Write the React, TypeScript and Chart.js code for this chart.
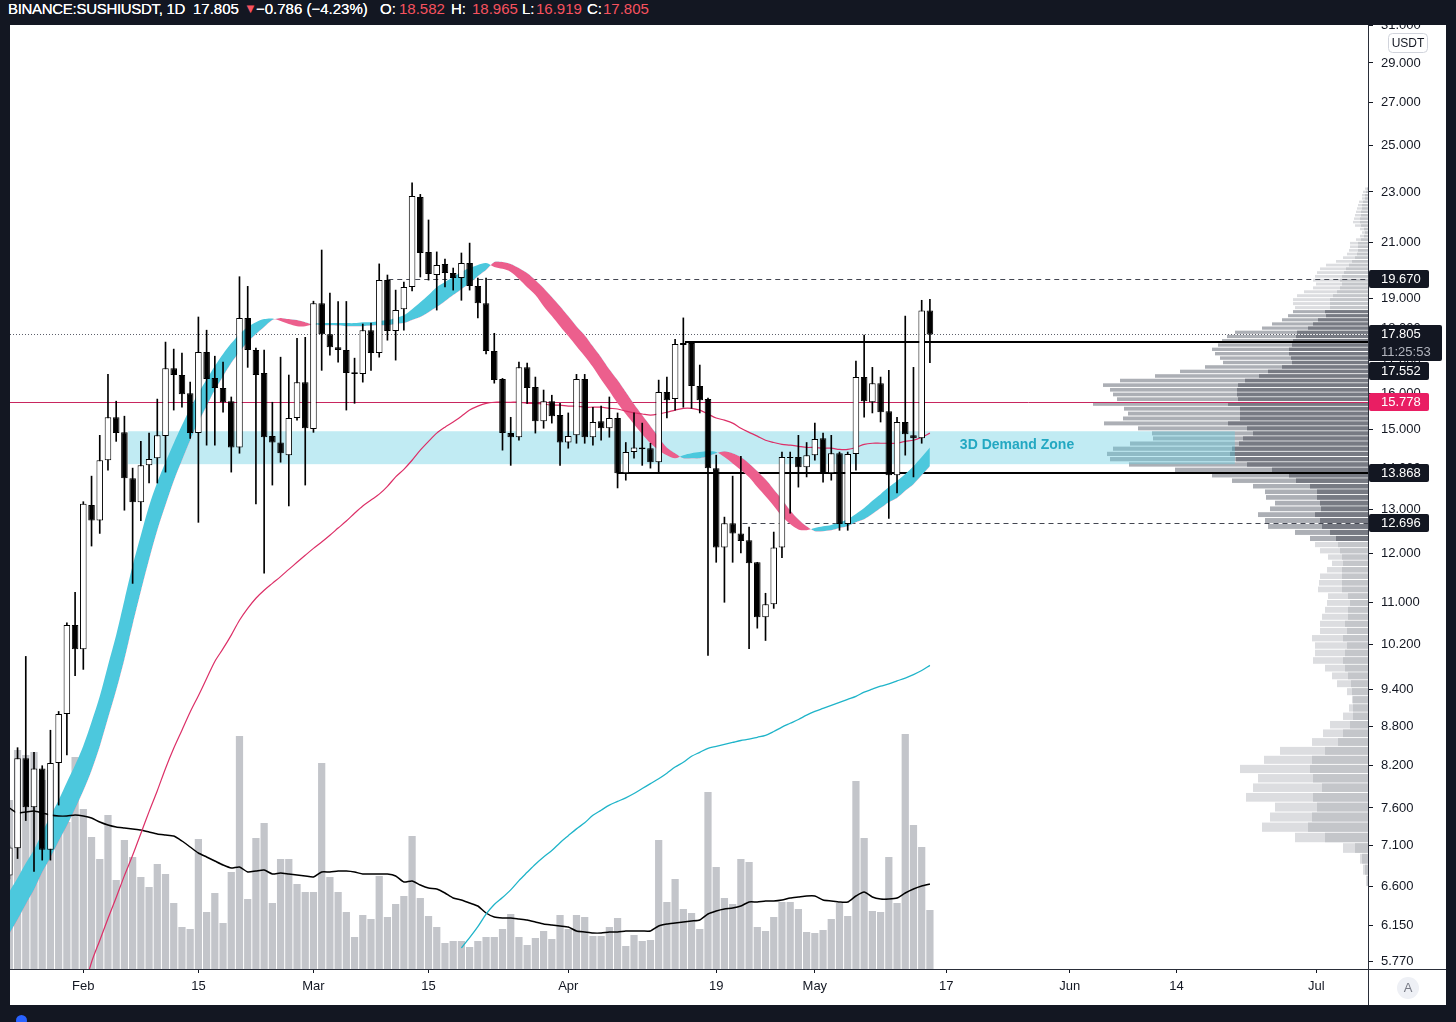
import React, { useEffect, useRef } from 'react';
import { Chart, registerables } from 'chart.js';

Chart.register(...registerables);

// ---------------- data ----------------
// daily candles SUSHI/USDT, first candle 2021-01-23 (day -9 relative to 2021-02-01)
const FIRST_DAY = -9;

const OPEN = [
  6.73, 7.07, 8.31, 7.61, 8.16, 7.05, 8.24, 9.0, 10.56,
  10.11, 13.1, 12.74, 14.2, 15.34, 14.93, 13.75, 13.17, 14.07, 14.25,
  14.83, 16.75, 16.55, 16.02, 14.91, 17.25, 16.46, 16.17, 15.79, 14.53,
  18.34, 17.31, 16.61, 14.83, 14.66, 14.33, 15.32, 16.34, 15.02, 18.83,
  17.81, 17.4, 17.31, 16.63, 16.58, 17.94, 17.22, 19.63, 17.91, 18.63,
  19.39, 22.79, 20.65, 19.81, 20.21, 19.88, 19.7, 20.24, 19.42, 18.83,
  17.28, 16.43, 14.91, 14.8, 16.78, 16.2, 15.23, 15.79, 15.4, 14.66,
  14.85, 16.43, 14.8, 15.23, 15.04, 15.32, 13.87, 14.41, 14.53, 14.51,
  14.15, 16.05, 15.85, 17.47, 17.53, 16.23, 15.85, 14.0, 12.14, 12.68,
  12.45, 12.3, 11.82, 10.71, 10.96, 12.14, 14.28, 14.28, 14.02, 14.33,
  14.77, 13.87, 14.38, 12.66, 14.36, 16.49, 15.76, 16.31, 15.51, 13.82,
  15.21, 14.85, 14.77, 18.582,
];
const HIGH = [
  7.1, 8.47, 9.98, 8.4, 8.2, 8.74, 9.04, 10.6, 11.2,
  13.18, 13.8, 14.85, 16.57, 15.79, 15.37, 14.0, 14.69, 14.91, 15.85,
  17.56, 17.34, 17.22, 16.34, 18.37, 17.94, 17.12, 16.94, 15.91, 19.75,
  19.41, 17.37, 17.31, 15.76, 17.09, 16.55, 17.68, 17.71, 18.9, 20.72,
  19.18, 18.89, 18.89, 17.06, 18.14, 18.17, 20.21, 19.81, 19.28, 19.56,
  23.38, 22.9, 21.87, 20.65, 20.39, 20.06, 20.61, 20.98, 19.7, 19.7,
  17.84, 16.45, 15.34, 16.94, 16.91, 16.49, 16.11, 15.96, 15.73, 15.46,
  16.57, 16.57, 15.62, 15.65, 15.91, 15.46, 14.66, 15.46, 15.18, 14.64,
  16.4, 16.49, 17.65, 18.34, 17.55, 16.85, 15.88, 14.33, 12.82, 13.8,
  14.3, 12.59, 11.82, 11.18, 12.48, 14.41, 14.41, 14.85, 14.66, 15.18,
  14.91, 14.85, 14.41, 14.41, 16.97, 17.78, 16.78, 16.49, 16.69, 15.34,
  18.4, 16.78, 18.93, 18.965,
];
const LOW = [
  6.69, 6.94, 7.43, 6.78, 6.92, 6.92, 7.64, 8.36, 9.64,
  9.75, 12.17, 12.45, 13.95, 14.69, 12.98, 11.38, 12.74, 13.63, 13.63,
  13.9, 15.54, 15.62, 14.77, 12.7, 14.59, 14.59, 15.48, 13.9, 14.38,
  16.78, 13.13, 11.59, 13.58, 14.15, 13.08, 15.26, 13.58, 14.93, 16.69,
  17.15, 16.94, 15.54, 15.73, 16.34, 16.69, 17.09, 17.62, 17.0, 17.94,
  19.25, 19.74, 19.63, 18.6, 19.39, 19.28, 18.93, 19.28, 18.34, 17.19,
  16.31, 14.46, 14.07, 14.72, 15.73, 14.91, 15.04, 15.18, 14.07, 14.51,
  14.64, 14.64, 14.59, 14.72, 14.8, 13.51, 13.7, 14.25, 14.07, 14.0,
  13.87, 15.32, 15.54, 15.62, 15.59, 15.46, 10.0, 11.82, 11.0, 11.82,
  12.02, 10.12, 10.5, 10.27, 10.88, 11.92, 12.91, 13.53, 13.78, 14.2,
  13.65, 13.7, 12.52, 12.52, 13.95, 15.34, 15.46, 15.21, 12.79, 13.39,
  14.33, 13.78, 14.64, 16.919,
];
const CLOSE = [
  7.08, 8.31, 7.61, 8.16, 7.05, 8.24, 9.0, 10.56, 10.11,
  13.13, 12.74, 14.2, 15.34, 14.91, 13.75, 13.17, 14.07, 14.23, 14.85,
  16.75, 16.55, 15.99, 14.91, 17.25, 16.43, 16.17, 15.76, 14.53, 18.34,
  17.31, 16.55, 14.8, 14.66, 14.38, 15.32, 16.34, 15.04, 18.83, 17.81,
  17.4, 17.31, 16.61, 16.58, 17.94, 17.22, 19.63, 17.91, 18.6, 19.39,
  22.83, 20.61, 19.85, 20.17, 19.88, 19.7, 20.24, 19.42, 18.83, 17.28,
  16.4, 14.91, 14.8, 16.78, 16.17, 15.23, 15.79, 15.37, 14.66, 14.83,
  16.43, 14.8, 15.21, 15.04, 15.32, 13.87, 14.41, 14.53, 14.48, 14.15,
  16.05, 15.82, 17.5, 17.53, 16.23, 15.82, 14.0, 12.14, 12.68, 12.45,
  12.28, 11.8, 10.71, 10.96, 12.14, 14.28, 14.26, 14.02, 14.33, 14.75,
  13.87, 14.38, 12.66, 14.36, 16.49, 15.79, 16.31, 15.48, 13.82, 15.21,
  14.88, 14.77, 18.582, 17.805,
];
// volume, millions (estimated)
const VOLUME = [
  1.69, 2.19, 2.14, 2.17, 1.89, 1.99, 1.39, 1.47, 2.12,
  1.6, 1.32, 1.1, 1.54, 0.89, 1.29, 1.12, 0.92, 0.82, 1.05,
  0.95, 0.66, 0.42, 0.4, 1.3, 0.57, 0.76, 0.46, 0.97, 2.33,
  0.7, 1.31, 1.46, 0.66, 1.1, 1.1, 0.85, 0.77, 0.77, 2.06,
  0.92, 0.77, 0.57, 0.32, 0.54, 0.5, 0.93, 0.52, 0.65, 0.73,
  1.33, 0.71, 0.53, 0.42, 0.26, 0.28, 0.28, 0.22, 0.28, 0.32,
  0.32, 0.4, 0.55, 0.32, 0.24, 0.31, 0.38, 0.3, 0.54, 0.4,
  0.54, 0.52, 0.33, 0.33, 0.42, 0.51, 0.23, 0.34, 0.28, 0.29,
  1.29, 0.67, 0.9, 0.6, 0.56, 0.4, 1.77, 1.02, 0.71, 0.65,
  1.1, 1.07, 0.42, 0.38, 0.52, 0.67, 0.67, 0.6, 0.37, 0.36,
  0.39, 0.5, 0.66, 0.53, 1.88, 1.31, 0.58, 0.57, 1.12, 0.66,
  2.35, 1.44, 1.22, 0.59,
];
const VOLUME_MA = [
  1.61, 1.56, 1.57, 1.58, 1.56, 1.54, 1.53, 1.53, 1.54,
  1.53, 1.51, 1.47, 1.44, 1.42, 1.41, 1.4, 1.39, 1.37, 1.35,
  1.34, 1.33, 1.28, 1.22, 1.16, 1.12, 1.08, 1.04, 1.01, 1.02,
  0.97, 0.98, 0.99, 0.95, 0.96, 0.95, 0.94, 0.93, 0.92, 0.97,
  0.97, 0.98, 0.98, 0.97, 0.95, 0.95, 0.95, 0.95, 0.93, 0.87,
  0.88, 0.84, 0.81, 0.8, 0.76, 0.71, 0.69, 0.66, 0.63, 0.56,
  0.52, 0.51, 0.51, 0.5, 0.49, 0.47, 0.45, 0.44, 0.43, 0.42,
  0.38, 0.37, 0.36, 0.36, 0.37, 0.37, 0.38, 0.38, 0.38, 0.38,
  0.43, 0.45, 0.46, 0.47, 0.48, 0.49, 0.55, 0.58, 0.6, 0.61,
  0.63, 0.67, 0.67, 0.68, 0.68, 0.69, 0.71, 0.72, 0.73, 0.73,
  0.69, 0.68, 0.67, 0.67, 0.73, 0.77, 0.72, 0.7, 0.7, 0.71,
  0.76, 0.8, 0.83, 0.85,
];
// ribbon: fast and slow averages (cyan when fast above slow, pink otherwise)
const RIBBON_FAST = [
  6.54, 6.7, 6.88, 7.05, 7.27, 7.49, 7.71, 7.96, 8.21,
  8.5, 8.87, 9.29, 9.82, 10.37, 11.04, 11.75, 12.41, 13.08, 13.65,
  14.15, 14.64, 15.12, 15.59, 16.02, 16.42, 16.82, 17.19, 17.52, 17.81,
  18.04, 18.2, 18.3, 18.32, 18.24, 18.14, 18.07, 18.07, 18.14, 18.17,
  18.17, 18.17, 18.17, 18.17, 18.2, 18.2, 18.24, 18.27, 18.34, 18.43,
  18.63, 18.86, 19.11, 19.38, 19.56, 19.74, 19.92, 20.06, 20.17, 20.24,
  20.1, 20.03, 19.92, 19.67, 19.38, 19.11, 18.73, 18.4, 18.07, 17.75,
  17.43, 17.12, 16.79, 16.42, 16.08, 15.73, 15.43, 15.15, 14.88, 14.64,
  14.46, 14.33, 14.25, 14.33, 14.38, 14.41, 14.43, 14.41, 14.28, 14.12,
  13.95, 13.77, 13.53, 13.31, 13.08, 12.84, 12.66, 12.54, 12.52, 12.57,
  12.61, 12.64, 12.7, 12.77, 12.89, 13.03, 13.2, 13.36, 13.53, 13.68,
  13.85, 14.05, 14.28, 14.53,
];
const RIBBON_SLOW = [
  6.06, 6.22, 6.39, 6.56, 6.77, 6.95, 7.16, 7.36, 7.59,
  7.84, 8.13, 8.49, 8.93, 9.39, 9.93, 10.57, 11.22, 11.88, 12.52,
  13.1, 13.68, 14.2, 14.72, 15.21, 15.65, 16.11, 16.51, 16.91, 17.25,
  17.56, 17.81, 18.04, 18.27, 18.34, 18.3, 18.27, 18.2, 18.12, 18.1,
  18.1, 18.09, 18.07, 18.07, 18.07, 18.09, 18.1, 18.1, 18.14, 18.17,
  18.27, 18.37, 18.53, 18.7, 18.9, 19.11, 19.31, 19.52, 19.77, 19.99,
  20.28, 20.28, 20.21, 20.06, 19.88, 19.63, 19.35, 19.04, 18.73, 18.4,
  18.07, 17.78, 17.43, 17.09, 16.72, 16.4, 16.05, 15.71, 15.4, 15.1,
  14.8, 14.53, 14.38, 14.25, 14.25, 14.25, 14.3, 14.38, 14.43, 14.38,
  14.28, 14.12, 13.93, 13.72, 13.48, 13.24, 12.98, 12.77, 12.61, 12.5,
  12.5, 12.52, 12.57, 12.61, 12.7, 12.77, 12.89, 13.03, 13.17, 13.27,
  13.44, 13.6, 13.82, 14.05,
];
const MA_RED_START = 0;
const MA_RED = [
  5.47, 5.76, 5.99, 6.23, 6.47, 6.73, 6.98, 7.26, 7.55, 7.84,
  8.16, 8.46, 8.74, 9.03, 9.3, 9.59, 9.89, 10.12, 10.37, 10.65,
  10.88, 11.08, 11.24, 11.38, 11.52, 11.67, 11.82, 11.97, 12.12, 12.26,
  12.41, 12.57, 12.73, 12.91, 13.08, 13.22, 13.36, 13.55, 13.78, 13.97,
  14.2, 14.46, 14.69, 14.91, 15.07, 15.21, 15.37, 15.54, 15.65, 15.73,
  15.76, 15.76, 15.76, 15.76, 15.73, 15.73, 15.71, 15.68, 15.68, 15.65,
  15.65, 15.62, 15.62, 15.62, 15.59, 15.57, 15.51, 15.46, 15.43, 15.4,
  15.43, 15.48, 15.54, 15.59, 15.59, 15.54, 15.43, 15.32, 15.26, 15.18,
  15.04, 14.93, 14.83, 14.72, 14.66, 14.61, 14.59, 14.56, 14.53, 14.53,
  14.51, 14.51, 14.48, 14.48, 14.53, 14.61, 14.64, 14.64, 14.64, 14.64,
  14.69, 14.72, 14.8, 14.91,
];
const MA_CYAN_START = 46;
const MA_CYAN = [
  5.91, 6.02, 6.14, 6.28, 6.39, 6.47, 6.56, 6.67, 6.77, 6.87,
  6.96, 7.04, 7.14, 7.23, 7.32, 7.4, 7.5, 7.57, 7.64, 7.69,
  7.74, 7.8, 7.87, 7.94, 8.01, 8.09, 8.18, 8.25, 8.34, 8.4,
  8.46, 8.49, 8.52, 8.55, 8.58, 8.6, 8.63, 8.66, 8.72, 8.79,
  8.85, 8.91, 8.98, 9.04, 9.09, 9.14, 9.19, 9.24, 9.29, 9.36,
  9.41, 9.46, 9.5, 9.55, 9.6, 9.66, 9.73, 9.82,
];

// axis ticks
const X_TICK_DAYS = [0, 14, 28, 42, 59, 77, 89, 105, 120, 133, 150];
const X_TICK_LABELS = ['Feb', '15', 'Mar', '15', 'Apr', '19', 'May', '17', 'Jun', '14', 'Jul'];
const Y_TICKS = [5.77, 6.15, 6.6, 7.1, 7.6, 8.2, 8.8, 9.4, 10.2, 11, 12, 13, 14, 15, 16, 17, 18, 19, 21, 23, 25, 27, 29, 31];
const X_MIN = -8.92;
const X_MAX = 156.3;
const Y_MIN = 5.69;
const Y_MAX = 31.05;
const VOL_AXIS_MAX = 9.44;

// visible-range volume profile (rows of PROFILE_STEP starting at PROFILE_LOW)
const PROFILE_LOW = 6.6;
const PROFILE_STEP = 0.135;
const PROFILE_TOTAL = [
  0.2, 0.5, 0.8, 2.5, 7.3, 10.6, 9.8, 9.3, 12.2, 11.5,
  11.0, 12.8, 10.4, 8.8, 5.6, 4.5, 3.8, 2.5, 1.9, 1.6,
  2.1, 3.1, 3.6, 4.3, 5.5, 5.3, 5.3, 5.6, 4.8, 4.8,
  4.6, 4.3, 4.1, 4.0, 5.0, 4.9, 4.8, 4.1, 3.6, 4.0,
  4.8, 5.3, 5.8, 7.3, 10.0, 10.3, 11.0, 9.8, 9.3, 10.2,
  10.3, 11.5, 13.6, 15.6, 19.3, 23.9, 25.8, 26.1, 25.5, 23.8,
  21.5, 21.6, 23.0, 26.4, 24.5, 24.0, 24.4, 27.5, 25.1, 25.5,
  25.8, 26.5, 24.8, 21.3, 18.8, 16.3, 14.5, 14.8, 15.3, 15.6,
  15.0, 14.6, 14.1, 13.3, 10.6, 9.6, 8.6, 8.0, 7.5, 7.3,
  7.5, 7.5, 7.1, 6.4, 5.5, 5.2, 5.5, 5.3, 5.1, 4.8,
  4.2, 3.2, 2.5, 2.1, 1.9, 1.8, 1.8, 1.2, 0.8, 0.6,
  0.8, 1.3, 1.5, 1.4, 1.3, 1.2, 1.1, 1.0, 0.9, 0.6,
  0.6, 0.5, 0.3,
];
const PROFILE_DARK = [
  0.1, 0.3, 0.6, 1.3, 4.3, 6.0, 5.6, 5.1, 5.5, 4.6,
  5.5, 5.8, 5.6, 4.3, 3.0, 2.5, 1.8, 1.5, 1.5, 1.5,
  1.6, 1.7, 2.0, 2.3, 2.5, 2.3, 2.1, 2.5, 2.1, 2.3,
  2.0, 2.0, 1.8, 2.0, 2.6, 2.6, 2.6, 2.6, 2.5, 2.6,
  2.8, 3.0, 3.2, 3.8, 4.6, 4.8, 5.3, 4.7, 4.8, 5.1,
  5.1, 5.8, 7.2, 7.9, 9.6, 12.1, 13.2, 13.8, 13.6, 12.9,
  12.5, 11.5, 12.1, 14.0, 12.8, 12.8, 12.8, 14.0, 13.0, 13.1,
  13.1, 13.0, 12.3, 10.9, 10.0, 8.6, 7.6, 7.7, 7.9, 7.9,
  7.6, 7.5, 7.2, 7.1, 6.0, 5.5, 5.0, 4.2, 4.3, 3.8,
  3.8, 3.8, 3.5, 3.1, 2.8, 2.6, 2.8, 2.6, 2.4, 2.2,
  1.9, 1.6, 1.3, 1.1, 1.0, 1.0, 1.0, 0.7, 0.4, 0.3,
  0.4, 0.7, 0.8, 0.8, 0.7, 0.7, 0.6, 0.6, 0.5, 0.3,
  0.3, 0.2, 0.1,
];
const VA_FIRST_ROW = 42;
const VA_LAST_ROW = 88;
const PROFILE_AXIS_MAX = 135.8;

// drawings
const ZONE_HIGH = 14.96;
const ZONE_LOW = 14.1;
const ZONE_FROM_DAY = 5.45;
const ZONE_TO_DAY = 140.1;
const ZONE_LABEL = '3D Demand Zone';
const ZONE_LABEL_DAY = 113.6;
const ZONE_LABEL_PRICE = 14.6;

const LEVEL_PRICES = [19.67, 17.805, 17.552, 15.778, 13.868, 12.696];
const LEVEL_FROM_DAY: (number | null)[] = [37.1, null, 73.2, null, 64.9, 80.2];
const LEVEL_KIND = ['dashed', 'dotted', 'solid', 'poc', 'solid', 'dashed'];

const LABEL_PRICES = [19.67, 17.805, 17.552, 15.778, 13.868, 12.696];
const LABEL_KIND = ['black', 'last', 'black', 'poc', 'black', 'black'];
const COUNTDOWN = '11:25:53';

// ---------------- styles ----------------
const C = {
  frame: '#131722',
  text: '#131722',
  up: '#ffffff',
  down: '#000000',
  edge: '#000000',
  volume: '#c3c5ca',
  volumeMa: '#000000',
  maRed: '#dc2f67',
  maCyan: '#1fb4c9',
  ribbonUp: '#4cc8dd',
  ribbonDown: '#ec5f8d',
  zone: 'rgba(100, 205, 225, 0.4)',
  zoneText: '#23a8c2',
  poc: '#c8265f',
  vaLight: '#acafb5',
  vaDark: '#777a83',
  outLight: '#dcdde0',
  outDark: '#c4c6ca',
  dashed: '#434651',
  dotted: '#5d606b',
  solid: '#000000',
  labelBg: '#131722',
  pocBg: '#e91e63',
  red: '#f7525f',
  sep: '#2a2e39',
};
const FONT = '"Liberation Sans", Arial, sans-serif';

const overlayPlugin = {
  id: 'tvOverlay',
  beforeDatasetsDraw(chart: any) {
    const { ctx, chartArea: a, scales } = chart;
    const ys = scales.y;
    const xs = scales.x;
    const xp = scales.xProf;
    ctx.save();
    ctx.beginPath();
    ctx.rect(a.left, a.top, a.right - a.left, a.bottom - a.top);
    ctx.clip();

    // volume profile
    const right = xp.getPixelForValue(0);
    for (let k = 0; k < PROFILE_TOTAL.length; k++) {
      const lo = PROFILE_LOW + k * PROFILE_STEP;
      const yTop = ys.getPixelForValue(lo + PROFILE_STEP);
      const yBot = ys.getPixelForValue(lo);
      const h = Math.max(1, yBot - yTop - 1);
      const inVA = k >= VA_FIRST_ROW && k <= VA_LAST_ROW;
      const xt = xp.getPixelForValue(PROFILE_TOTAL[k]);
      const xd = xp.getPixelForValue(PROFILE_DARK[k]);
      ctx.fillStyle = inVA ? C.vaLight : C.outLight;
      ctx.fillRect(xt, yTop + 0.5, right - xt, h);
      ctx.fillStyle = inVA ? C.vaDark : C.outDark;
      ctx.fillRect(xd, yTop + 0.5, right - xd, h);
    }

    // demand zone
    const zx0 = xs.getPixelForValue(ZONE_FROM_DAY);
    const zx1 = xs.getPixelForValue(ZONE_TO_DAY);
    const zy0 = ys.getPixelForValue(ZONE_HIGH);
    const zy1 = ys.getPixelForValue(ZONE_LOW);
    ctx.fillStyle = C.zone;
    ctx.fillRect(zx0, zy0, zx1 - zx0, zy1 - zy0);
    ctx.fillStyle = C.zoneText;
    ctx.font = `bold 14px ${FONT}`;
    ctx.textAlign = 'center';
    ctx.textBaseline = 'middle';
    ctx.fillText(ZONE_LABEL, xs.getPixelForValue(ZONE_LABEL_DAY), ys.getPixelForValue(ZONE_LABEL_PRICE));

    // horizontal levels
    LEVEL_PRICES.forEach((p, i) => {
      const kind = LEVEL_KIND[i];
      const fromDay = LEVEL_FROM_DAY[i];
      const x0 = fromDay === null ? a.left : xs.getPixelForValue(fromDay);
      const yy = ys.getPixelForValue(p);
      ctx.beginPath();
      if (kind === 'solid') {
        ctx.setLineDash([]);
        ctx.lineWidth = 2;
        ctx.strokeStyle = C.solid;
        ctx.moveTo(x0, Math.round(yy));
        ctx.lineTo(a.right, Math.round(yy));
      } else {
        ctx.setLineDash(kind === 'dashed' ? [5, 4] : kind === 'dotted' ? [1, 2] : []);
        ctx.lineWidth = 1;
        ctx.strokeStyle = kind === 'dashed' ? C.dashed : kind === 'dotted' ? C.dotted : C.poc;
        ctx.moveTo(x0, Math.round(yy) + 0.5);
        ctx.lineTo(a.right, Math.round(yy) + 0.5);
      }
      ctx.stroke();
    });
    ctx.restore();
  },
  afterDraw(chart: any) {
    const { ctx, chartArea: a, scales, width, height } = chart;
    const ys = scales.y;
    ctx.save();
    // separators
    ctx.strokeStyle = C.sep;
    ctx.lineWidth = 1;
    ctx.setLineDash([]);
    ctx.beginPath();
    ctx.moveTo(Math.round(a.right) + 0.5, 0);
    ctx.lineTo(Math.round(a.right) + 0.5, height);
    ctx.moveTo(0, Math.round(a.bottom) + 0.5);
    ctx.lineTo(width, Math.round(a.bottom) + 0.5);
    ctx.stroke();

    // USDT unit box
    const ux = a.right + 20;
    ctx.fillStyle = '#ffffff';
    ctx.strokeStyle = '#d1d4dc';
    ctx.beginPath();
    ctx.roundRect(ux + 0.5, 8.5, 39, 19, 4);
    ctx.fill();
    ctx.stroke();
    ctx.fillStyle = C.text;
    ctx.font = `12px ${FONT}`;
    ctx.textAlign = 'center';
    ctx.textBaseline = 'middle';
    ctx.fillText('USDT', ux + 20, 18.5);

    // price labels
    const order = LABEL_PRICES.map((p, i) => i).sort((i, j) => LABEL_PRICES[j] - LABEL_PRICES[i]);
    let prevBottom = -Infinity;
    ctx.textAlign = 'left';
    order.forEach((i) => {
      const kind = LABEL_KIND[i];
      const h = kind === 'last' ? 36 : 18;
      const w = kind === 'last' ? 73 : 60;
      const cy = ys.getPixelForValue(LABEL_PRICES[i]);
      const top = Math.max(Math.round(cy - 9), prevBottom + 1);
      ctx.fillStyle = kind === 'poc' ? C.pocBg : C.labelBg;
      ctx.beginPath();
      ctx.roundRect(a.right + 1, top, w, h, 2);
      ctx.fill();
      ctx.fillStyle = '#ffffff';
      ctx.font = `13px ${FONT}`;
      ctx.fillText(LABEL_PRICES[i].toFixed(3), a.right + 13, top + 9.5);
      if (kind === 'last') {
        ctx.fillStyle = '#b2b5be';
        ctx.fillText(COUNTDOWN, a.right + 13, top + 27);
      }
      prevBottom = top + h;
    });
    ctx.restore();
  },
};

export default function App() {
  const ref = useRef<HTMLCanvasElement>(null);

  useEffect(() => {
    if (!ref.current) return;
    const days = OPEN.map((_, i) => i + FIRST_DAY);
    const bodyColors = OPEN.map((o, i) => (CLOSE[i] >= o ? C.up : C.down));

    const chart = new Chart(ref.current, {
      type: 'bar',
      data: {
        datasets: [
          {
            type: 'bar',
            label: 'Body',
            data: days.map((d, i) => ({ x: d, y: [OPEN[i], CLOSE[i]] })) as any,
            backgroundColor: bodyColors,
            borderColor: C.edge,
            borderWidth: 1,
            borderSkipped: false,
            grouped: false,
            barPercentage: 0.8,
            categoryPercentage: 1,
            xAxisID: 'x',
            yAxisID: 'y',
            order: 0,
          } as any,
          {
            type: 'bar',
            label: 'Wick',
            data: days.map((d, i) => ({ x: d, y: [LOW[i], HIGH[i]] })) as any,
            backgroundColor: C.edge,
            borderWidth: 0,
            grouped: false,
            barThickness: 1,
            xAxisID: 'x',
            yAxisID: 'y',
            order: 1,
          } as any,
          {
            type: 'line',
            label: 'MA red',
            data: MA_RED.map((v, i) => ({ x: MA_RED_START + i, y: v })),
            borderColor: C.maRed,
            borderWidth: 1.2,
            pointRadius: 0,
            tension: 0.3,
            xAxisID: 'x',
            yAxisID: 'y',
            order: 3,
          } as any,
          {
            type: 'line',
            label: 'MA cyan',
            data: MA_CYAN.map((v, i) => ({ x: MA_CYAN_START + i, y: v })),
            borderColor: C.maCyan,
            borderWidth: 1.3,
            pointRadius: 0,
            tension: 0.3,
            xAxisID: 'x',
            yAxisID: 'y',
            order: 3,
          } as any,
          {
            type: 'line',
            label: 'Ribbon fast',
            data: RIBBON_FAST.map((v, i) => ({ x: days[i], y: v })),
            borderColor: 'rgba(0,0,0,0)',
            borderWidth: 0,
            pointRadius: 0,
            tension: 0.3,
            fill: { target: '+1', above: C.ribbonUp, below: C.ribbonDown },
            xAxisID: 'x',
            yAxisID: 'y',
            order: 5,
          } as any,
          {
            type: 'line',
            label: 'Ribbon slow',
            data: RIBBON_SLOW.map((v, i) => ({ x: days[i], y: v })),
            borderColor: 'rgba(0,0,0,0)',
            borderWidth: 0,
            pointRadius: 0,
            tension: 0.3,
            fill: false,
            xAxisID: 'x',
            yAxisID: 'y',
            order: 5,
          } as any,
          {
            type: 'line',
            label: 'Volume MA',
            data: VOLUME_MA.map((v, i) => ({ x: days[i], y: v })),
            borderColor: C.volumeMa,
            borderWidth: 1.5,
            pointRadius: 0,
            tension: 0.2,
            xAxisID: 'x',
            yAxisID: 'yVol',
            order: 4,
          } as any,
          {
            type: 'bar',
            label: 'Volume',
            data: days.map((d, i) => ({ x: d, y: VOLUME[i] })),
            backgroundColor: C.volume,
            borderWidth: 0,
            grouped: false,
            barPercentage: 0.88,
            categoryPercentage: 1,
            xAxisID: 'x',
            yAxisID: 'yVol',
            order: 6,
          } as any,
        ],
      },
      options: {
        responsive: false,
        maintainAspectRatio: false,
        animation: false,
        events: [],
        layout: { padding: 0 },
        plugins: { legend: { display: false }, tooltip: { enabled: false }, title: { display: false } },
        scales: {
          x: {
            type: 'linear',
            position: 'bottom',
            min: X_MIN,
            max: X_MAX,
            offset: false,
            afterBuildTicks: (s: any) => {
              s.ticks = X_TICK_DAYS.map((v) => ({ value: v }));
            },
            afterFit: (s: any) => {
              s.height = 36;
              s.paddingLeft = 0;
              s.paddingRight = 0;
            },
            ticks: {
              callback: (_v: any, idx: number) => X_TICK_LABELS[idx],
              autoSkip: false,
              maxRotation: 0,
              color: C.text,
              font: { family: 'Liberation Sans', size: 13 },
              padding: 6,
            },
            grid: { drawOnChartArea: false, drawTicks: true, tickLength: 4, color: C.text, offset: false },
            border: { display: false },
          },
          y: {
            type: 'logarithmic',
            position: 'right',
            min: Y_MIN,
            max: Y_MAX,
            afterBuildTicks: (s: any) => {
              s.ticks = Y_TICKS.map((v) => ({ value: v }));
            },
            afterFit: (s: any) => {
              s.width = 78;
              s.paddingTop = 0;
              s.paddingBottom = 0;
            },
            ticks: {
              callback: (v: any) => Number(v).toFixed(3),
              autoSkip: false,
              color: C.text,
              font: { family: 'Liberation Sans', size: 13 },
              padding: 8,
            },
            grid: { drawOnChartArea: false, drawTicks: true, tickLength: 5, color: C.text },
            border: { display: false },
          },
          yVol: {
            type: 'linear',
            display: false,
            min: 0,
            max: VOL_AXIS_MAX,
          },
          xProf: {
            type: 'linear',
            axis: 'x',
            display: false,
            reverse: true,
            offset: false,
            min: 0,
            max: PROFILE_AXIS_MAX,
          },
        },
      } as any,
      plugins: [overlayPlugin],
    });
    return () => chart.destroy();
  }, []);

  const hdr: React.CSSProperties = {
    position: 'absolute',
    top: 0,
    fontSize: 15,
    lineHeight: '18px',
    whiteSpace: 'nowrap',
    color: '#ffffff',
    textShadow: '0 0 0.4px #ffffff',
  };
  const red: React.CSSProperties = { ...hdr, color: C.red, textShadow: 'none' };

  return (
    <div
      style={{
        position: 'fixed',
        left: 0,
        top: 0,
        width: 1456,
        height: 1022,
        background: C.frame,
        overflow: 'hidden',
        fontFamily: FONT,
      }}
    >
      <span style={{ ...hdr, left: 8, letterSpacing: '-0.3px' }}>BINANCE:SUSHIUSDT, 1D</span>
      <span style={{ ...hdr, left: 193 }}>17.805</span>
      <span style={{ ...red, left: 244, fontSize: 13 }}>▼</span>
      <span style={{ ...hdr, left: 256 }}>−0.786 (−4.23%)</span>
      <span style={{ ...hdr, left: 380 }}>O:</span>
      <span style={{ ...red, left: 399 }}>18.582</span>
      <span style={{ ...hdr, left: 451 }}>H:</span>
      <span style={{ ...red, left: 472 }}>18.965</span>
      <span style={{ ...hdr, left: 522 }}>L:</span>
      <span style={{ ...red, left: 536 }}>16.919</span>
      <span style={{ ...hdr, left: 587 }}>C:</span>
      <span style={{ ...red, left: 603 }}>17.805</span>

      <div style={{ position: 'absolute', left: 10, top: 25, width: 1436, height: 980, background: '#ffffff' }}>
        <canvas ref={ref} width={1436} height={980} style={{ display: 'block', width: 1436, height: 980 }} />
      </div>

      <div
        style={{
          position: 'absolute',
          left: 1397,
          top: 977,
          width: 22,
          height: 22,
          borderRadius: 11,
          background: '#eef0f5',
          color: '#787b86',
          fontSize: 13,
          lineHeight: '22px',
          textAlign: 'center',
        }}
      >
        A
      </div>
      <div
        style={{
          position: 'absolute',
          left: 16,
          top: 1015,
          width: 11,
          height: 11,
          borderRadius: 6,
          background: '#2962ff',
        }}
      />
    </div>
  );
}
